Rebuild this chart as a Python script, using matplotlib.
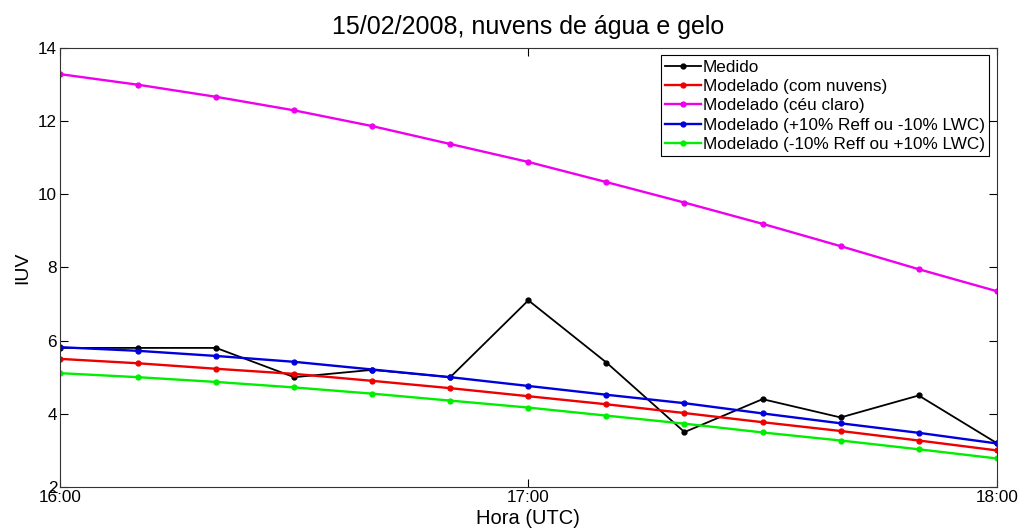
import matplotlib.pyplot as plt

# Dados: IUV a cada 10 minutos, 16:00-18:00 UTC
horas = ['16:00', '16:10', '16:20', '16:30', '16:40', '16:50', '17:00',
         '17:10', '17:20', '17:30', '17:40', '17:50', '18:00']
medido = [5.8, 5.8, 5.8, 5.0, 5.2, 5.0, 7.1, 5.4, 3.5, 4.4, 3.9, 4.5, 3.2]
com_nuvens = [5.50, 5.38, 5.23, 5.09, 4.90, 4.70, 4.48, 4.26, 4.02, 3.77, 3.53, 3.27, 3.00]
ceu_claro = [13.28, 12.99, 12.66, 12.29, 11.86, 11.37, 10.88, 10.33, 9.77, 9.19, 8.58, 7.95, 7.35]
mais_reff = [5.82, 5.72, 5.58, 5.42, 5.21, 5.00, 4.76, 4.52, 4.29, 4.01, 3.74, 3.48, 3.19]
menos_reff = [5.11, 5.00, 4.87, 4.72, 4.55, 4.36, 4.17, 3.95, 3.73, 3.49, 3.27, 3.03, 2.78]

legendas = ['Medido', 'Modelado (com nuvens)', 'Modelado (céu claro)',
            'Modelado (+10% Reff ou -10% LWC)', 'Modelado (-10% Reff ou +10% LWC)']
cores = ['black', '#ee0000', '#ee00ee', '#0000dd', '#00ee00']

# hora decimal
t = [int(h[:2]) + int(h[3:]) / 60 for h in horas]

plt.rcParams['font.family'] = ['Liberation Sans', 'DejaVu Sans']

fig = plt.figure(figsize=(10.2, 5.32), dpi=100)
ax = fig.add_axes([0.0588, 0.0846, 0.9184, 0.8256])

series = [medido, com_nuvens, ceu_claro, mais_reff, menos_reff]
for y, cor, nome in zip(series, cores, legendas):
    lw = 1.3 if nome == 'Medido' else 1.7
    ax.plot(t, y, color=cor, marker='.', markersize=7, linewidth=lw, label=nome)

ax.set_xlim(16, 18)
ax.set_ylim(2, 14)
ax.set_xticks([16, 17, 18])
ax.set_xticklabels(['16:00', '17:00', '18:00'])
ax.set_yticks(range(2, 15, 2))
ax.tick_params(direction='in', length=6, width=0.8, top=True, right=True,
               labelsize=12.3, pad=2)
for s in ax.spines.values():
    s.set_color('#333333')

ax.set_title('15/02/2008, nuvens de água e gelo', fontsize=18, pad=10)
ax.set_xlabel('Hora (UTC)', fontsize=14.5, labelpad=3)
ax.set_ylabel('IUV', fontsize=14, labelpad=5)

leg = ax.legend(loc='upper right', fontsize=12.3, frameon=True, fancybox=False,
                edgecolor='black', framealpha=1, borderpad=0.25, labelspacing=0.25,
                handlelength=2.1, handletextpad=0.1, borderaxespad=0.45)
leg.get_frame().set_linewidth(0.8)

fig.savefig('out.png', dpi=100)
